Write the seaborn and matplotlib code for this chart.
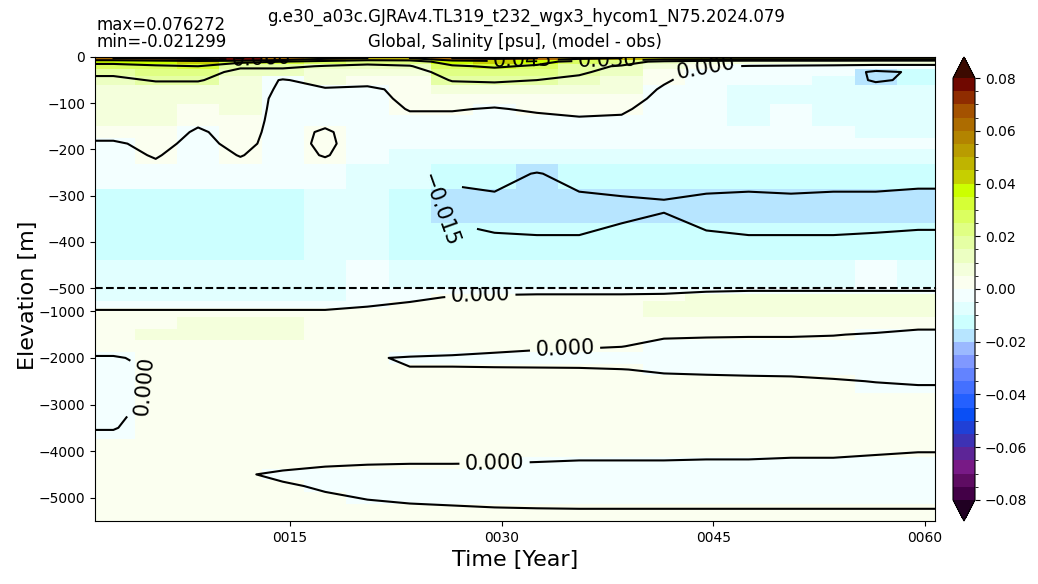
import numpy as np
import matplotlib
matplotlib.use("Agg")
import matplotlib.pyplot as plt
import seaborn as sns
from matplotlib.colors import ListedColormap, BoundaryNorm
from matplotlib.ticker import FuncFormatter

sns.set_style("ticks", {"axes.edgecolor": "black", "xtick.color": "black",
                        "ytick.color": "black", "text.color": "black",
                        "axes.labelcolor": "black"})
plt.rcParams['font.family'] = ['DejaVu Sans']

# time axis: 3-year blocks (year centres)
year_centers = [2.5, 5.5, 8.5, 11.5, 14.5, 17.5, 20.5, 23.5, 26.5, 29.5,
                32.5, 35.5, 38.5, 41.5, 44.5, 47.5, 50.5, 53.5, 56.5, 59.5]
year_ticks = [15, 30, 45, 60]
year_labels = ['0015', '0030', '0045', '0060']

# depth levels [m] of the two panels
depth_upper = [2.5, 10, 20, 32.5, 50, 70, 90, 112.5, 137.5, 162.5, 187.5,
               212.5, 252.5, 317.5, 402.5, 475]
depth_lower = [550, 700, 850, 1000, 1250, 1500, 1750, 2000, 2250, 2500,
               3000, 3500, 4000, 4250, 4500, 4750, 5000, 5250, 5450]

# salinity bias (model - obs), in 0.001 psu, one row per depth level
sal_upper = [
    [60, 62, 66, 76, 62, 50, 45, 45, 60, 65, 60, 50, 45, 40, 40, 40, 40, 40, 40, 40],
    [35, 38, 40, 34, 30, 25, 20, 22, 38, 40, 35, 25, 20, 12, 8, 6, 6, 6, 5, 5],
    [25, 28, 30, 18, 18, 14, 12, 14, 28, 32, 28, 18, 14, 6, 1, -0.5, -1, -1.5, -2, -2],
    [18, 22, 23, 10, 10, 8, 7, 8, 22, 24, 22, 17, 10, 3, -3, -4, -5, -5, -18, -13],
    [12, 16, 16, 9, -1, 5, 4, 4, 16, 17, 15, 12, 7, 1, -4, -5, -5, -6, -17, -12],
    [9, 9, 9, 7, -2, -1, -2, 3, 8, 9, 8, 7, 5, -1, -5, -6, -6, -6, -8, -10],
    [7, 7, 6, 6, -3, -3, -3, 2, 4, 3, 4, 4, 3, -2, -5, -6, -6, -6, -6, -7],
    [6, 6, 3, 5, -3, -3, -4, 0.5, 0.5, -0.5, 1, 1, 1, -3, -5, -6, -5, -6, -6, -6],
    [5, 5, 1.5, 4, -3, -2, -4, -2, -2, -3, -2, -0.5, -1, -4, -5, -6, -5, -6, -6, -6],
    [3, 4, -1, 3, -3, 1, -4, -4, -4, -4, -4, -3, -3, -5, -5, -5, -5, -5, -6, -6],
    [-1, 2, -2, 2, -3, 1.5, -4, -5, -5, -5, -5, -5, -5, -5, -5, -5, -5, -5, -5, -5],
    [-2, 0.5, -3, 0.3, -3, 0.5, -4, -6, -6, -6, -7, -6, -6, -6, -6, -6, -6, -6, -6, -6],
    [-3, -2, -3, -3, -5, -4, -6, -8, -14, -12, -15.5, -12, -12, -13, -12, -12, -11, -12, -12, -13],
    [-12, -12, -12, -12, -12, -10, -8, -13, -16.5, -17, -17, -17, -16, -15.3, -16.5, -17, -17, -17, -17, -17],
    [-11, -12, -12, -12, -11, -9, -8, -12, -13.5, -14.3, -14.5, -14.5, -14, -14, -14.3, -14.5, -14.5, -14.5, -14.3, -14],
    [-6, -10, -10, -10, -10, -6, -5, -7, -7, -7, -7, -7, -7, -7, -6, -6, -6, -6, -4, -6],
]
sal_lower = [
    [-7, -7, -7, -7, -7, -7, -4, -3, -2, -2, -2, -2, -2, -2, -1.5, -0.5, -0.5, -0.5, -0.5, -0.5],
    [-6, -6, -6, -6, -6, -6, -2, -1, 0.3, 1, 1.5, 1.5, 1.5, 2, 6, 6, 6, 6, 6, 6],
    [-2, -2, -2, -2, -2, -2, -0.5, 0.5, 1.5, 2, 2.5, 2.5, 2.5, 5.5, 6, 6, 6, 6, 6, 6],
    [0.5, 0.5, 0.5, 0.5, 0.5, 0.5, 1, 2, 2.5, 2.5, 2.5, 2.5, 2.5, 5.5, 6, 6, 6, 6, 6, 6],
    [3, 4, 6, 6, 6, 3, 3, 3, 3, 3, 3, 3, 3, 4, 4, 4, 4, 4, 3, 2],
    [2, 5.5, 5.5, 5.5, 5.5, 3, 2.5, 2.5, 2.5, 2.5, 2.5, 2.5, 2.5, 0.8, 0.6, 0.5, 0.5, 0.2, -0.5, -1.5],
    [1, 2, 2, 2, 2, 2, 2, 2.5, 2, 1.5, 1.2, 0.8, 0.15, -1.5, -1.8, -2, -2, -2, -2, -2],
    [-0.2, 0.5, 1.5, 1.5, 1.5, 1.5, 0.3, -0.3, -0.6, -1.2, -2.4, -3, -3, -3, -3, -3, -3, -3, -3, -3],
    [-1, 0.3, 1.5, 1.5, 1.5, 1.5, 1, 0.1, 0.2, 0.3, 0.5, 0.5, 0.1, -0.5, -0.8, -0.9, -1, -1.2, -1.5, -1.5],
    [-1, 0.3, 1.5, 1.5, 1.5, 1.5, 1.5, 1.5, 1.5, 1.5, 1.5, 1.5, 1.5, 1, 1, 0.8, 0.7, 0.3, -0.1, -0.4],
    [-0.6, 0.5, 2, 2, 2, 2, 2, 2, 2, 2, 2, 2, 2, 2, 2, 2, 2, 2, 2, 2],
    [-0.2, 1.5, 2.5, 2.5, 2.5, 2.5, 2.5, 2.5, 2.5, 2.5, 2.5, 2.5, 2.5, 2.5, 2.5, 2.5, 2.5, 2.5, 2.5, 2.5],
    [2, 2, 2, 2, 2, 2, 2, 2, 2, 1.8, 1.5, 1.2, 1.2, 1.2, 1, 1, 0.8, 0.8, 0.4, 0.1],
    [2, 2, 2, 2, 1, 0.5, 0.3, 0.2, 0.2, 0.1, -0.1, -0.3, -0.3, -0.3, -0.4, -0.4, -0.6, -0.6, -0.8, -0.9],
    [1.5, 1.5, 1.5, 0.3, -0.5, -1, -1.5, -2, -2, -2, -2, -2, -2, -2, -2, -2, -2, -2, -2, -2],
    [1.5, 1.5, 1.5, 1.5, 0.3, -0.3, -1, -1.5, -1.5, -1.5, -1.5, -1.5, -1.5, -1.5, -1.5, -1.5, -1.5, -1.5, -1.5, -1.5],
    [1.5, 1.5, 1.5, 1.5, 1.5, 0.3, -0.1, -0.5, -0.8, -1, -1, -1, -1, -1, -1, -1, -1, -1, -1, -1],
    [1.2, 1.2, 1.2, 1.2, 1.2, 1.2, 0.5, 0.5, 0.4, 0.2, 0.1, 0.05, 0.05, 0.05, 0.05, 0.05, 0.05, 0.05, 0.05, 0.05],
    [1, 1, 1, 1, 1, 1, 1, 1, 1, 1, 1, 1, 1, 1, 1, 1, 1, 1, 1, 1],
]

# where the contour labels sit (year, elevation)
label_spots_upper = [(13, -5), (31.5, -10), (37.5, -14), (44.5, -25), (26, -320)]
label_spots_lower = [(28.5, -700), (34.5, -1850), (4.6, -2600), (29.5, -4250)]

# discrete colour table, 0.005 psu per colour from -0.08 to 0.08
bias_colors = [
    '#430047', '#5e0c62', '#781a86', '#5d2597', '#3d32b4', '#2040d6', '#0a4ff5', '#2460ff',
    '#4470ff', '#6383ff', '#8098ff', '#9bb9ff', '#b7e5ff', '#ccffff', '#e1ffff', '#f3ffff',
    '#fbfff0', '#f4ffdc', '#ecffc2', '#e5ffa4', '#e0ff84', '#dbff60', '#d6ff36', '#ccff00',
    '#c6cf00', '#bfb400', '#b99c00', '#b38400', '#ad6c00', '#a45200', '#8f2c00', '#700800',
]
levels = np.round(np.arange(-16, 17) * 0.005, 3)
cmap = ListedColormap(sns.color_palette(bias_colors))
cmap.set_over('#3c0a00')
cmap.set_under('#200022')
norm = BoundaryNorm(levels, cmap.N)
clevels = np.round(np.arange(-5, 6) * 0.015, 3)

xlim = (1.2, 60.7)
t = np.array(year_centers)
t_edges = np.concatenate([[1.0], (t[:-1] + t[1:]) / 2, [61.0]])


def edges(c, top, bottom):
    c = np.array(c, dtype=float)
    return np.concatenate([[top], (c[:-1] + c[1:]) / 2, [bottom]])


def fmt(v):
    return f"{v:.3f}".replace('-', '\u2212')


fig = plt.figure(figsize=(10.38, 5.84), dpi=100)
ax_up = fig.add_axes([95 / 1038, 296 / 584, 840 / 1038, 231 / 584])
ax_lo = fig.add_axes([95 / 1038, 63 / 584, 840 / 1038, 233 / 584])
cax = fig.add_axes([953 / 1038, 63 / 584, 22 / 1038, 464 / 584])
ax_up.set_zorder(3)

panels = [(ax_up, depth_upper, sal_upper, 0, 500, label_spots_upper),
          (ax_lo, depth_lower, sal_lower, 500, 5500, label_spots_lower)]
for ax, dep, sal, top, bottom, spots in panels:
    z = np.array(sal) * 0.001
    mesh = ax.pcolormesh(t_edges, -edges(dep, top, bottom), z, cmap=cmap, norm=norm)
    # extend the field to the frame so the contours reach the edges
    zc = np.pad(z, 1, mode='edge')
    xc = np.concatenate([[xlim[0]], t, [xlim[1]]])
    yc = -np.concatenate([[top], dep, [bottom]])
    cs = ax.contour(xc, yc, zc, levels=clevels, colors='k', linewidths=1.5,
                    linestyles='solid')
    ax.clabel(cs, fmt=fmt, fontsize=15, inline=True, manual=spots)
    ax.set_xlim(*xlim)
    ax.set_ylim(-bottom, -top)
    ax.tick_params(labelsize=10)

ax_up.set_xticks([])
ax_up.set_yticks([0, -100, -200, -300, -400, -500])
ax_up.spines['bottom'].set_visible(False)
ax_up.axhline(-500, color='k', ls='--', lw=1.5, clip_on=False)
ax_lo.spines['top'].set_visible(False)
ax_lo.set_yticks([-1000, -2000, -3000, -4000, -5000])
ax_lo.set_xticks(year_ticks)
ax_lo.set_xticklabels(year_labels, family=['Liberation Sans Narrow', 'DejaVu Sans'])
ax_lo.set_xlabel('Time [Year]', fontsize=16, family=['Liberation Sans Narrow', 'DejaVu Sans'])

cb = fig.colorbar(mesh, cax=cax, extend='both',
                  ticks=np.round(np.arange(-4, 5) * 0.02, 2))
cb.ax.yaxis.set_major_formatter(FuncFormatter(lambda v, p: f"{v:.2f}".replace('-', '\u2212')))
cb.ax.yaxis.set_ticks(levels, minor=True)
cb.ax.tick_params(labelsize=10)

fig.text(526 / 1038, 1 - 17 / 584, 'g.e30_a03c.GJRAv4.TL319_t232_wgx3_hycom1_N75.2024.079',
         ha='center', va='center', fontsize=12)
fig.text(515 / 1038, 1 - 42 / 584, 'Global, Salinity [psu], (model - obs)',
         ha='center', va='center', fontsize=12)
fig.text(96 / 1038, 1 - 25 / 584, 'max=0.076272', ha='left', va='center', fontsize=12)
fig.text(96 / 1038, 1 - 42 / 584, 'min=-0.021299', ha='left', va='center', fontsize=12)
fig.text(28 / 1038, 1 - 295 / 584, 'Elevation [m]', rotation=90, ha='center',
         va='center', fontsize=16)

fig.savefig('out.png', dpi=100)
